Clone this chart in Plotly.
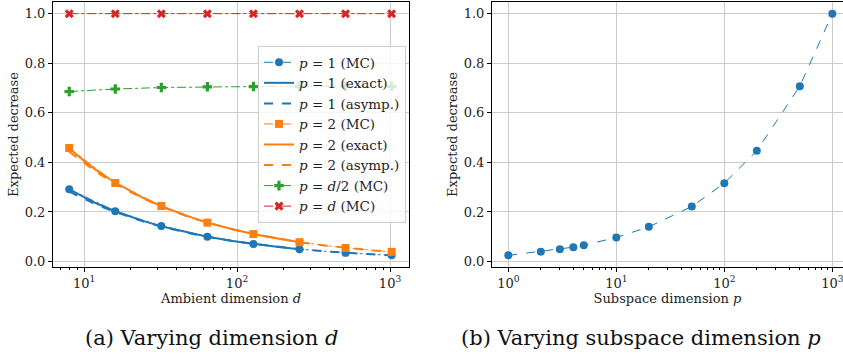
import plotly.graph_objects as go

# ---------------- data ----------------
d_mc = [8, 16, 32, 64, 128, 256, 512, 1024]
mc_p1 = [0.292, 0.203, 0.143, 0.100, 0.071, 0.050, 0.035, 0.025]
mc_p2 = [0.458, 0.317, 0.224, 0.157, 0.111, 0.078, 0.055, 0.039]
mc_half = [0.686, 0.696, 0.702, 0.705, 0.706, 0.707, 0.707, 0.707]
mc_full = [1.0, 1.0, 1.0, 1.0, 1.0, 1.0, 1.0, 1.0]

d_exact = [8, 10, 12, 16, 24, 32, 48, 64, 96, 128, 192, 256]
exact_p1 = [0.291, 0.259, 0.235, 0.203, 0.165, 0.142, 0.116, 0.100, 0.082, 0.071, 0.058, 0.050]
exact_p2 = [0.457, 0.406, 0.369, 0.318, 0.259, 0.223, 0.182, 0.157, 0.128, 0.111, 0.091, 0.078]

d_asym = [8, 12, 16, 24, 32, 48, 64, 96, 128, 192, 256, 384, 512, 768, 1024]
asym_p1 = [0.282, 0.230, 0.200, 0.163, 0.141, 0.115, 0.100, 0.081, 0.071, 0.058, 0.050, 0.041, 0.035, 0.029, 0.025]
asym_p2 = [0.443, 0.362, 0.313, 0.256, 0.222, 0.181, 0.157, 0.128, 0.111, 0.091, 0.078, 0.064, 0.055, 0.045, 0.039]

p_sub = [1, 2, 3, 4, 5, 10, 20, 50, 100, 200, 500, 1000]
dec_sub = [0.025, 0.040, 0.050, 0.058, 0.066, 0.097, 0.140, 0.222, 0.316, 0.447, 0.707, 1.0]

log_tickvals = [1, 10, 100, 1000]
log_ticktext = ["10<sup>0</sup>", "10<sup>1</sup>", "10<sup>2</sup>", "10<sup>3</sup>"]
minor_tickvals = [2, 3, 4, 5, 6, 7, 8, 9, 20, 30, 40, 50, 60, 70, 80, 90,
                  200, 300, 400, 500, 600, 700, 800, 900, 2000]
y_tickvals = [0.0, 0.2, 0.4, 0.6, 0.8, 1.0]

BLUE, ORANGE, GREEN, RED = "#1f77b4", "#ff7f0e", "#2ca02c", "#d62728"
FONT = "DejaVu Serif"

fig = go.Figure()

def mc(x, y, name, color, symbol, size=8):
    fig.add_trace(go.Scatter(x=x, y=y, name=name, mode="lines+markers",
                             line=dict(color=color, width=1, dash="dashdot"),
                             marker=dict(color=color, symbol=symbol, size=size),
                             xaxis="x", yaxis="y"))

def ln(x, y, name, color, dash):
    fig.add_trace(go.Scatter(x=x, y=y, name=name, mode="lines",
                             line=dict(color=color, width=2, dash=dash),
                             xaxis="x", yaxis="y"))

mc(d_mc, mc_p1, "<i>p</i> = 1 (MC)", BLUE, "circle")
ln(d_exact, exact_p1, "<i>p</i> = 1 (exact)", BLUE, "solid")
ln(d_asym, asym_p1, "<i>p</i> = 1 (asymp.)", BLUE, "dash")
mc(d_mc, mc_p2, "<i>p</i> = 2 (MC)", ORANGE, "square", 8)
ln(d_exact, exact_p2, "<i>p</i> = 2 (exact)", ORANGE, "solid")
ln(d_asym, asym_p2, "<i>p</i> = 2 (asymp.)", ORANGE, "dash")
mc(d_mc, mc_half, "<i>p</i> = <i>d</i>/2 (MC)", GREEN, "cross", 8)
mc(d_mc, mc_full, "<i>p</i> = <i>d</i> (MC)", RED, "x", 8)

fig.add_trace(go.Scatter(x=p_sub, y=dec_sub, mode="lines+markers", showlegend=False,
                         line=dict(color=BLUE, width=1, dash="dash"),
                         marker=dict(color=BLUE, symbol="circle", size=8),
                         xaxis="x2", yaxis="y2"))

W, H = 843, 355
ml, mr, mt, mb = 53, 0, 2, 88
pw = W - ml - mr
ph = H - mt - mb

axis_common = dict(
    showline=True, linecolor="black", linewidth=1,
    showgrid=True, gridcolor="#cccccc", gridwidth=1,
    ticks="outside", ticklen=4, tickwidth=1, tickcolor="black",
    tickfont=dict(family=FONT, size=13, color="#222"),
    zeroline=False, automargin=False, ticklabeloverflow="allow",
)
xlog = dict(axis_common, type="log", tickvals=log_tickvals, ticktext=log_ticktext,
            minor=dict(ticks="outside", ticklen=2, tickwidth=1, tickcolor="black",
                       tickvals=minor_tickvals, showgrid=False))

fig.update_layout(
    width=W, height=H,
    margin=dict(l=ml, r=mr, t=mt, b=mb),
    plot_bgcolor="white", paper_bgcolor="white",
    font=dict(family=FONT, size=13, color="#222"),
    xaxis=dict(xlog, domain=[0, (409 - ml) / pw], range=[0.797, 3.124], mirror=True,
               title=dict(text="Ambient dimension <i>d</i>", standoff=2,
                          font=dict(family=FONT, size=13))),
    yaxis=dict(axis_common, range=[-0.022, 1.047], tickvals=y_tickvals, tickformat=".1f",
               mirror=True, anchor="x",
               title=dict(text="Expected decrease", standoff=3,
                          font=dict(family=FONT, size=13))),
    xaxis2=dict(xlog, domain=[(492 - ml) / pw, 1], range=[-0.151, 3.099], mirror=True,
                anchor="y2",
                title=dict(text="Subspace dimension <i>p</i>", standoff=2,
                           font=dict(family=FONT, size=13))),
    yaxis2=dict(axis_common, range=[-0.022, 1.047], tickvals=y_tickvals, tickformat=".1f",
                mirror=False, anchor="x2",
                title=dict(text="Expected decrease", standoff=3,
                           font=dict(family=FONT, size=13))),
    legend=dict(x=(258 - ml) / pw, y=(267 - 46) / ph, xanchor="left", yanchor="top",
                bgcolor="rgba(255,255,255,0.8)", bordercolor="#cccccc", borderwidth=1,
                font=dict(family=FONT, size=13.5, color="#222"), tracegroupgap=0),
    showlegend=True,
    annotations=[
        dict(text="(a) Varying dimension <i>d</i>", xref="paper", yref="paper",
             x=(211 - ml) / pw, y=(267 - 338) / ph, showarrow=False,
             font=dict(family=FONT, size=21, color="#111"), xanchor="center", yanchor="middle"),
        dict(text="(b) Varying subspace dimension <i>p</i>", xref="paper", yref="paper",
             x=(641 - ml) / pw, y=(267 - 338) / ph, showarrow=False,
             font=dict(family=FONT, size=21, color="#111"), xanchor="center", yanchor="middle"),
    ],
)

fig.write_html("out.html", config={"displayModeBar": False},
               post_script="document.body.style.margin='0';document.body.style.padding='0';document.body.style.overflow='hidden';")
